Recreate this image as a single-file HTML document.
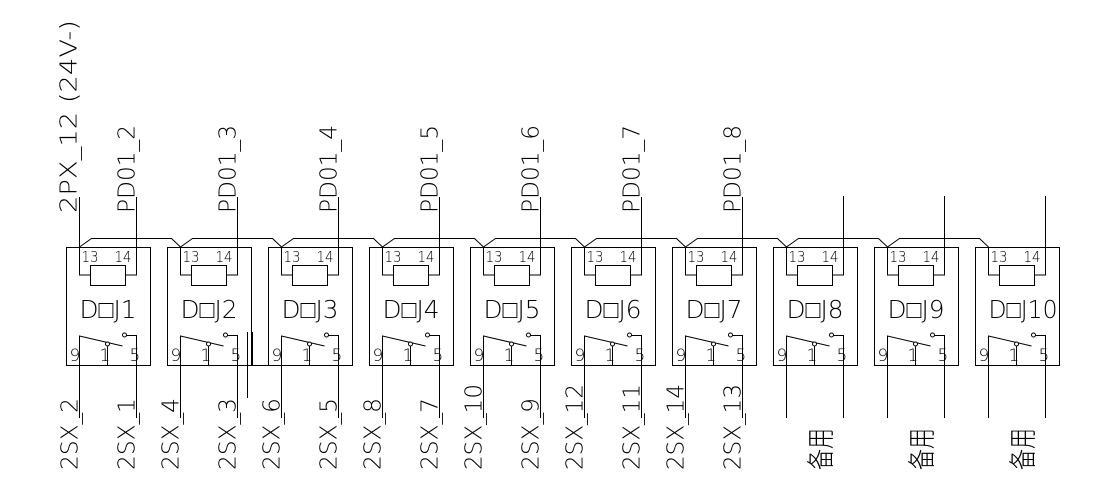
<!DOCTYPE html>
<html><head><meta charset="utf-8"><style>
html,body{margin:0;padding:0;background:#fff;}
svg{display:block}
text{font-family:"DejaVu Sans","Liberation Sans","Noto Sans CJK SC",sans-serif;font-weight:200;fill:#000}
text.cjk{font-family:"Noto Sans CJK SC",sans-serif;font-weight:300}
</style></head><body>
<svg width="1110" height="491" viewBox="0 0 1110 491" xmlns="http://www.w3.org/2000/svg">
<g stroke="#000" stroke-width="1" fill="none">
<rect x="66.5" y="247.5" width="84" height="118"/>
<rect x="167.5" y="247.5" width="84" height="118"/>
<rect x="268.5" y="247.5" width="84" height="118"/>
<rect x="369.5" y="247.5" width="84" height="118"/>
<rect x="470.5" y="247.5" width="84" height="118"/>
<rect x="571.5" y="247.5" width="84" height="118"/>
<rect x="672.5" y="247.5" width="84" height="118"/>
<rect x="773.5" y="247.5" width="84" height="118"/>
<rect x="874.5" y="247.5" width="84" height="118"/>
<rect x="975.5" y="247.5" width="84" height="118"/>
</g>
<g id="inner" stroke="#000" stroke-width="1" fill="none"></g>
<g id="txt"></g>
</svg>
<script>
var ns="http://www.w3.org/2000/svg";
var inner=document.getElementById('inner'),txt=document.getElementById('txt');
function L(d){var p=document.createElementNS(ns,'path');p.setAttribute('d',d);inner.appendChild(p);}
function C(x,y,r){var c=document.createElementNS(ns,'circle');c.setAttribute('cx',x);c.setAttribute('cy',y);c.setAttribute('r',r);c.setAttribute('fill','#fff');inner.appendChild(c);}
function T(s,x,y,fs,len,rot,cls){var t=document.createElementNS(ns,'text');t.textContent=s;t.setAttribute('font-size',fs);
 if(cls)t.setAttribute('class',cls);
 if(len){t.setAttribute('textLength',len);t.setAttribute('lengthAdjust','spacingAndGlyphs');}
 if(rot){t.setAttribute('transform','translate('+x+','+y+') rotate(-90)');}else{t.setAttribute('x',x);t.setAttribute('y',y);}
 txt.appendChild(t);}
var bl=[66,167,268,369,470,571,672,773,874,975];
var left=['2SX_2','2SX_4','2SX_6','2SX_8','2SX_10','2SX_12','2SX_14'];
var right=['2SX_1','2SX_3','2SX_5','2SX_7','2SX_9','2SX_11','2SX_13'];
for(var i=0;i<10;i++){
 var x=bl[i]+0.5,a=x+13,b=x+70,p=x+41;
 L('M'+a+' 247V275H'+(x+24)+'M'+(x+59)+' 275H'+b+'V247');
 L('M'+(x+24)+' 265.5h35v20h-35z');
 L('M'+a+' 418V336L'+(x+56)+' 346');
 L('M'+p+' 346V365');
 L('M'+(x+60)+' 335.5H'+b+'V418');
 C(p,344,2);C(x+58,335,2);
 T('13',x+15,262,15,17);T('14',x+48,262,15,17);
 T('D\u25A1J'+(i+1),x+13,318,25,i==9?69:57);
 T('9',x+3,361,17);T('1',x+33,361,17);T('5',x+63,361,17);
 if(i<7){L('M'+b+' 197V247');T('PD01_'+(i+2),b-2,213,23,88,1);}
 else{L('M'+b+' 196V247');}
 if(i<9){var a2=bl[i+1]+13.5;L('M'+a+' 247L'+(a+12)+' 238.5H'+(a2-9)+'L'+a2+' 247');}
 if(i<7){T(left[i],a-2,470,23,left[i].length>5?86:72,1);T(right[i],b-2,470,23,right[i].length>5?86:72,1);}
 else{T('备用',x+57,470,28,42,1,'cjk');}
}
L('M79.5 197V247');
T('2PX_12 (24V-)',76.5,213,23,193,1);
L('M247.5 332V398');
L('M252.5 332V365.5H268.5');
</script>
</body></html>
